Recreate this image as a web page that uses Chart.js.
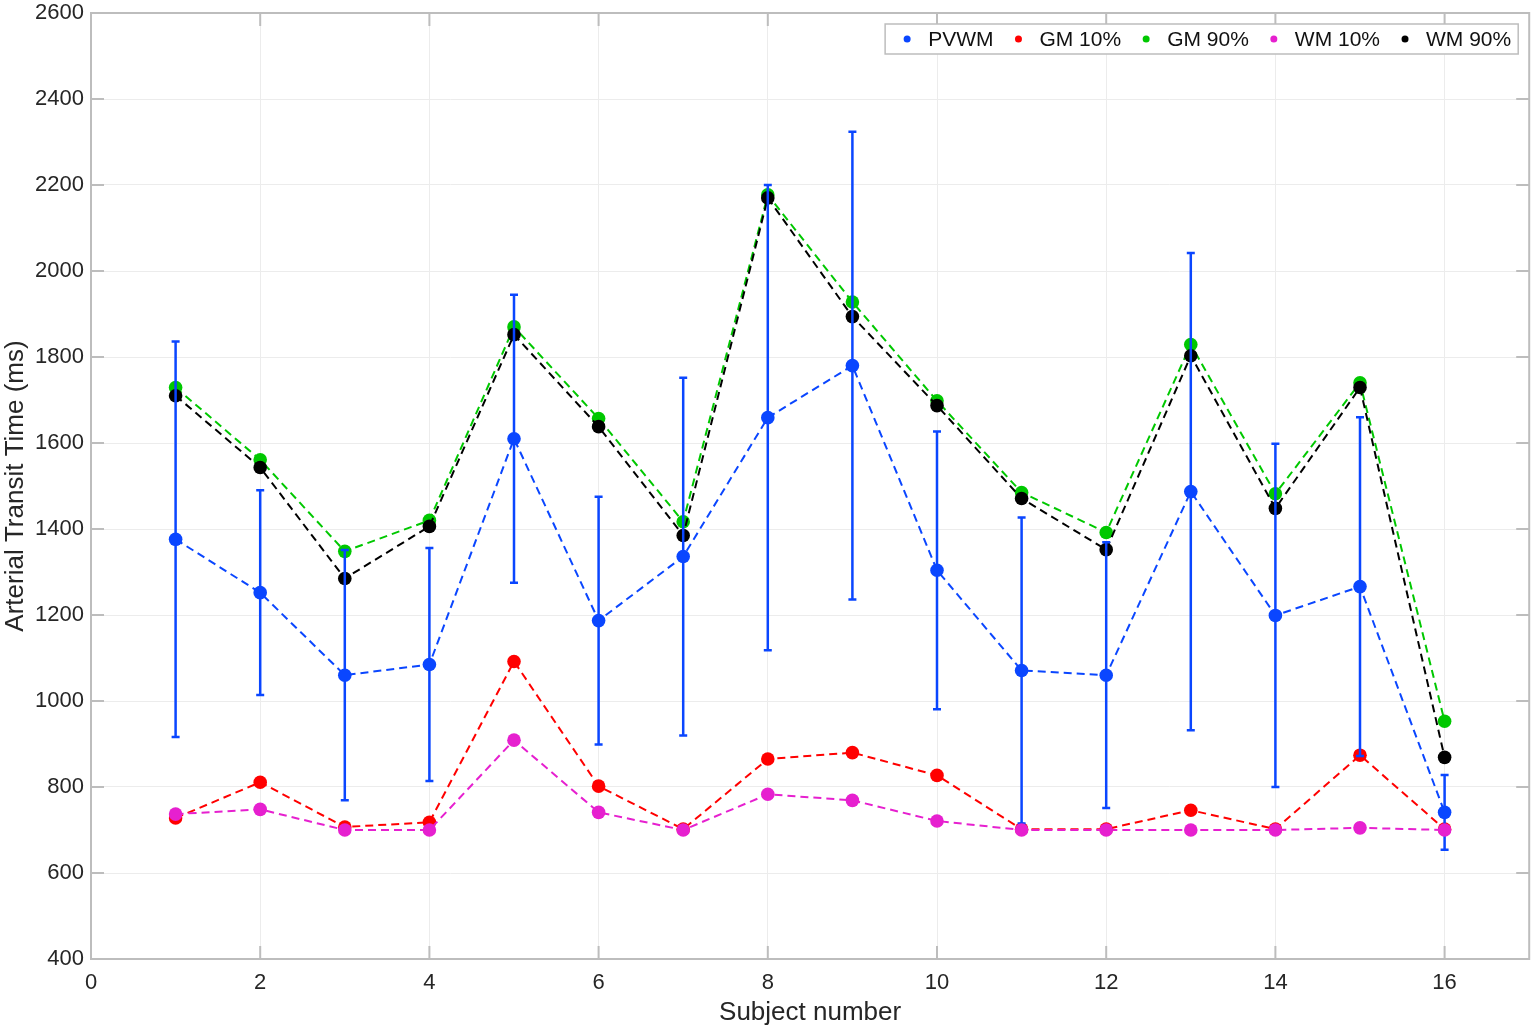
<!DOCTYPE html>
<html>
<head>
<meta charset="utf-8">
<script src="https://cdn.jsdelivr.net/npm/chart.js@4/dist/chart.umd.min.js"></script>
<style>
html,body{margin:0;padding:0;background:#ffffff;}
#wrap{width:1536px;height:1029px;}
</style>
</head>
<body>
<div id="wrap"><canvas id="c" width="1536" height="1029"></canvas></div>
<script>
// ---- data ----
const subjects = [1,2,3,4,5,6,7,8,9,10,11,12,13,14,15,16];
const pvwm    = [1376,1252,1060,1085,1610,1187,1336,1659,1780,1304,1071,1060,1487,1199,1266,741];
const pvwmErr = [460,238,291,271,335,288,416,541,544,323,356,309,555,399,394,87];
const gm10    = [728,811,707,718,1092,802,702,865,880,827,702,702,746,702,874,702];
const gm90    = [1729,1561,1348,1420,1870,1657,1417,2177,1928,1698,1485,1392,1829,1482,1740,953];
const wm10    = [737,748,700,700,909,741,700,783,769,721,700,700,700,700,705,700];
const wm90    = [1710,1543,1285,1406,1852,1638,1385,2170,1894,1687,1471,1352,1803,1448,1729,869];
const seriesLabels = ['PVWM','GM 10%','GM 90%','WM 10%','WM 90%'];
const xTickValues = [0,2,4,6,8,10,12,14,16];
const yTickValues = [400,600,800,1000,1200,1400,1600,1800,2000,2200,2400,2600];
const xTitle = 'Subject number';
const yTitle = 'Arterial Transit Time (ms)';

const FONT = '"Liberation Sans", Arial, Helvetica, sans-serif';
const TXT = '#262626';
const BOX = '#bdbdbd';
const colors = ['#0a46ff','#ff0000','#00c800','#e620cf','#000000'];
const drawOrder = [2,3,5,1,4]; // lower = drawn on top

const pts = arr => subjects.map((s,i)=>({x:s,y:arr[i]}));
const allSeries = [pvwm, gm10, gm90, wm10, wm90];

const datasets = allSeries.map((arr,k)=>({
  label: seriesLabels[k],
  data: pts(arr),
  borderColor: colors[k],
  backgroundColor: colors[k],
  pointBackgroundColor: colors[k],
  pointBorderColor: colors[k],
  pointRadius: 6.8,
  pointBorderWidth: 0,
  borderWidth: 2,
  borderDash: [8,5],
  tension: 0,
  fill: false,
  order: drawOrder[k]
}));

const errorBarPlugin = {
  id: 'errbars',
  beforeDatasetDraw(chart, args) {
    if (args.index !== 0) return;
    const {ctx, scales:{x, y}} = chart;
    ctx.save();
    ctx.strokeStyle = colors[0];
    ctx.lineWidth = 2.5;
    ctx.setLineDash([]);
    subjects.forEach((s,i)=>{
      const px = x.getPixelForValue(s);
      const top = y.getPixelForValue(pvwm[i] + pvwmErr[i]);
      const bot = y.getPixelForValue(pvwm[i] - pvwmErr[i]);
      ctx.beginPath();
      ctx.moveTo(px, top); ctx.lineTo(px, bot);
      ctx.moveTo(px-4, top); ctx.lineTo(px+4, top);
      ctx.moveTo(px-4, bot); ctx.lineTo(px+4, bot);
      ctx.stroke();
    });
    ctx.restore();
  }
};

const boxPlugin = {
  id: 'axbox',
  beforeDatasetsDraw(chart) {
    const {ctx, chartArea:a, scales:{x, y}} = chart;
    ctx.save();
    ctx.strokeStyle = BOX;
    ctx.lineWidth = 2;
    ctx.beginPath();
    const tl = 13;
    xTickValues.forEach(v=>{
      const px = x.getPixelForValue(v);
      ctx.moveTo(px, a.bottom); ctx.lineTo(px, a.bottom - tl);
      ctx.moveTo(px, a.top); ctx.lineTo(px, a.top + tl);
    });
    yTickValues.forEach(v=>{
      const py = y.getPixelForValue(v);
      ctx.moveTo(a.left, py); ctx.lineTo(a.left + tl, py);
      ctx.moveTo(a.right, py); ctx.lineTo(a.right - tl, py);
    });
    ctx.stroke();
    ctx.strokeRect(a.left, a.top, a.right - a.left, a.bottom - a.top);
    ctx.restore();
  }
};

const legendPlugin = {
  id: 'boxlegend',
  afterDraw(chart) {
    const {ctx, chartArea:a} = chart;
    ctx.save();
    ctx.font = '21px ' + FONT;
    const padL = 22, dotToText = 21, gap = 25, padR = 7;
    let widths = seriesLabels.map(t=>ctx.measureText(t).width);
    let total = padL + padR;
    widths.forEach((w,i)=>{ total += dotToText + w + (i < widths.length-1 ? gap : 0); });
    const right = a.right - 11;
    const left = right - total;
    const top = a.top + 11, h = 30;
    ctx.fillStyle = '#ffffff';
    ctx.fillRect(left, top, total, h);
    ctx.strokeStyle = '#bdbdbd';
    ctx.lineWidth = 1.5;
    ctx.strokeRect(left, top, total, h);
    let cx = left + padL;
    const cy = top + h/2;
    ctx.textBaseline = 'middle';
    ctx.textAlign = 'left';
    seriesLabels.forEach((t,i)=>{
      ctx.fillStyle = colors[i];
      ctx.beginPath(); ctx.arc(cx, cy, 3.5, 0, Math.PI*2); ctx.fill();
      ctx.fillStyle = '#111111';
      ctx.fillText(t, cx + dotToText, cy + 1);
      cx += dotToText + widths[i] + gap;
    });
    ctx.restore();
  }
};

new Chart(document.getElementById('c'), {
  type: 'line',
  data: { datasets },
  options: {
    responsive: false,
    devicePixelRatio: 1,
    animation: false,
    layout: { padding: { top: 13, right: 6, left: 0, bottom: 0 } },
    plugins: { legend: { display: false }, tooltip: { enabled: false } },
    scales: {
      x: {
        type: 'linear', position: 'bottom', min: 0, max: 17,
        afterBuildTicks: s => { s.ticks = xTickValues.map(v=>({value:v})); },
        afterFit: s => { s.height = 70; s.paddingLeft = 0; s.paddingRight = 0; },
        grid: { color: '#ececec', lineWidth: 1, drawTicks: false },
        border: { display: false },
        ticks: { font: { size: 22, family: FONT }, color: TXT, padding: 11, maxRotation: 0, autoSkip: false,
                 callback: v => String(v) },
        title: { display: true, text: xTitle, font: { size: 26, family: FONT }, color: TXT, padding: { top: 0, bottom: 1 } }
      },
      y: {
        type: 'linear', position: 'left', min: 400, max: 2600,
        afterBuildTicks: s => { s.ticks = yTickValues.map(v=>({value:v})); },
        afterFit: s => { s.width = 91; s.paddingTop = 0; s.paddingBottom = 0; },
        grid: { color: '#ececec', lineWidth: 1, drawTicks: false },
        border: { display: false },
        ticks: { font: { size: 22, family: FONT }, color: TXT, padding: 7, autoSkip: false,
                 callback: v => String(v) },
        title: { display: true, text: yTitle, font: { size: 26, family: FONT }, color: TXT, padding: { top: 0, bottom: 0 } }
      }
    }
  },
  plugins: [boxPlugin, errorBarPlugin, legendPlugin]
});
</script>
</body>
</html>
